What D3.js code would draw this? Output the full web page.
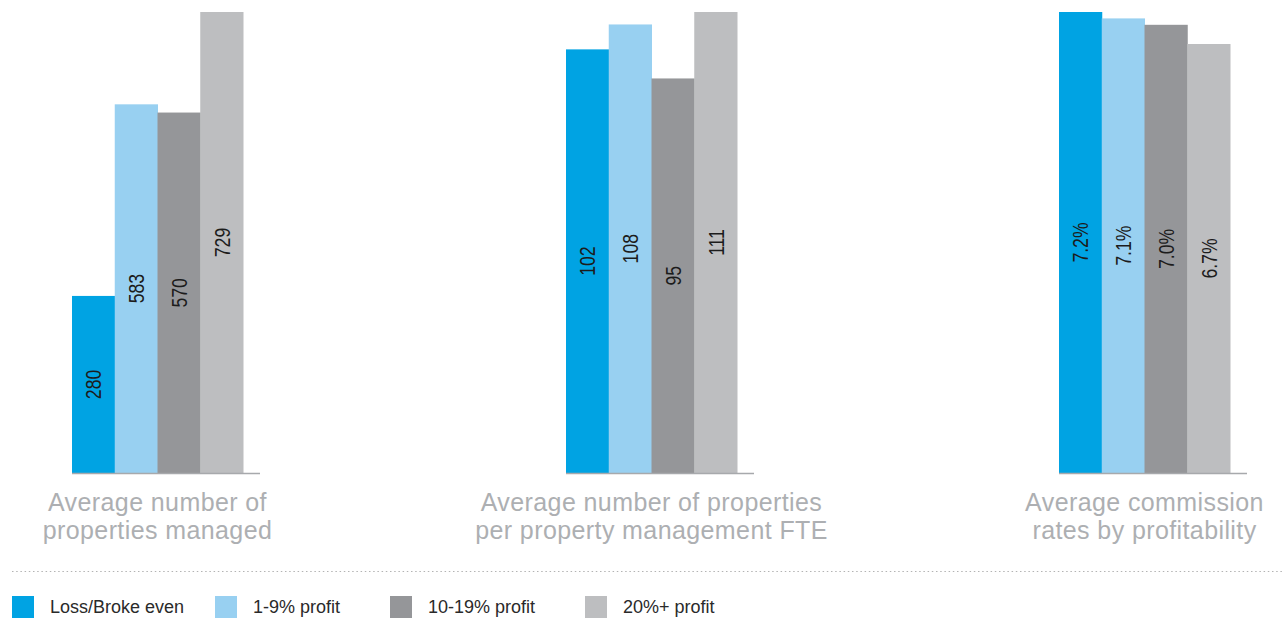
<!DOCTYPE html>
<html>
<head>
<meta charset="utf-8">
<script src="https://cdn.jsdelivr.net/npm/d3@7"></script>
<style>
  html, body { margin: 0; padding: 0; background: #ffffff; }
  svg { display: block; }
</style>
</head>
<body>
<svg id="chart" width="1285" height="618"></svg>
<script>
// ---- data ----
const categories = ["Loss/Broke even", "1-9% profit", "10-19% profit", "20%+ profit"];
const propertiesManaged = [280, 583, 570, 729];
const propertiesPerFTE = [102, 108, 95, 111];
const commissionRates = [7.2, 7.1, 7.0, 6.7];
const valueLabelsManaged = ["280", "583", "570", "729"];
const valueLabelsFTE = ["102", "108", "95", "111"];
const valueLabelsCommission = ["7.2%", "7.1%", "7.0%", "6.7%"];
const panelTitles = [
  ["Average number of", "properties managed"],
  ["Average number of properties", "per property management FTE"],
  ["Average commission", "rates by profitability"]
];
const seriesColors = ["#00a3e3", "#98d0f1", "#959699", "#bdbec0"];

// ---- layout ----
const svg = d3.select("#chart");
const baseY = 473, topY = 12;
const barBlock = 171, axisExtra = 17;
const panels = [
  { x0: 72, values: propertiesManaged, labels: valueLabelsManaged, title: panelTitles[0] },
  { x0: 566, values: propertiesPerFTE, labels: valueLabelsFTE, title: panelTitles[1] },
  { x0: 1059, values: commissionRates, labels: valueLabelsCommission, title: panelTitles[2] }
];
const font = "'Liberation Sans', Arial, Helvetica, sans-serif";

panels.forEach(p => {
  const x = d3.scaleBand().domain(categories).range([p.x0, p.x0 + barBlock]).padding(0);
  const y = d3.scaleLinear().domain([0, d3.max(p.values)]).range([baseY, topY]);
  const rows = categories.map((c, i) => ({ c, v: p.values[i], label: p.labels[i], color: seriesColors[i] }));
  const g = svg.append("g");

  g.selectAll("rect").data(rows).join("rect")
    .attr("x", d => x(d.c))
    .attr("y", d => y(d.v))
    .attr("width", x.bandwidth() + 0.5)
    .attr("height", d => baseY - y(d.v))
    .attr("fill", d => d.color);

  // axis baseline
  g.append("line")
    .attr("x1", p.x0).attr("x2", p.x0 + barBlock + axisExtra)
    .attr("y1", baseY + 0.5).attr("y2", baseY + 0.5)
    .attr("stroke", "#a7a9ac").attr("stroke-width", 1.5);

  // value labels, rotated, centered in bar
  g.selectAll("text.val").data(rows).join("text")
    .attr("class", "val")
    .attr("transform", d => `translate(${x(d.c) + x.bandwidth() / 2},${(y(d.v) + baseY) / 2}) rotate(-90) scale(0.8,1)`)
    .attr("text-anchor", "middle")
    .attr("dy", "0.36em")
    .attr("font-family", font)
    .attr("font-size", 22)
    .attr("fill", "#1c1c1c")
    .text(d => d.label);

  // panel title (two lines)
  const cx = p.x0 + barBlock / 2;
  p.title.forEach((line, i) => {
    g.append("text")
      .attr("x", cx).attr("y", 511 + i * 28)
      .attr("text-anchor", "middle")
      .attr("font-family", font)
      .attr("font-size", 25)
      .attr("letter-spacing", 0.4)
      .attr("fill", "#adafb2")
      .text(line);
  });
});

// dotted separator
svg.append("line")
  .attr("x1", 12).attr("x2", 1283)
  .attr("y1", 571.5).attr("y2", 571.5)
  .attr("stroke", "#b3b3b3").attr("stroke-width", 1)
  .attr("stroke-dasharray", "1.5,2.7");

// legend
const legendX = [12, 215, 390, 585];
const lg = svg.append("g");
const items = lg.selectAll("g").data(categories).join("g")
  .attr("transform", (d, i) => `translate(${legendX[i]},596)`);
items.append("rect")
  .attr("width", 22).attr("height", 22)
  .attr("fill", (d, i) => seriesColors[i]);
items.append("text")
  .attr("x", 38).attr("y", 17)
  .attr("font-family", font)
  .attr("font-size", 18)
  .attr("fill", "#2a2a2a")
  .text(d => d);
</script>
</body>
</html>
